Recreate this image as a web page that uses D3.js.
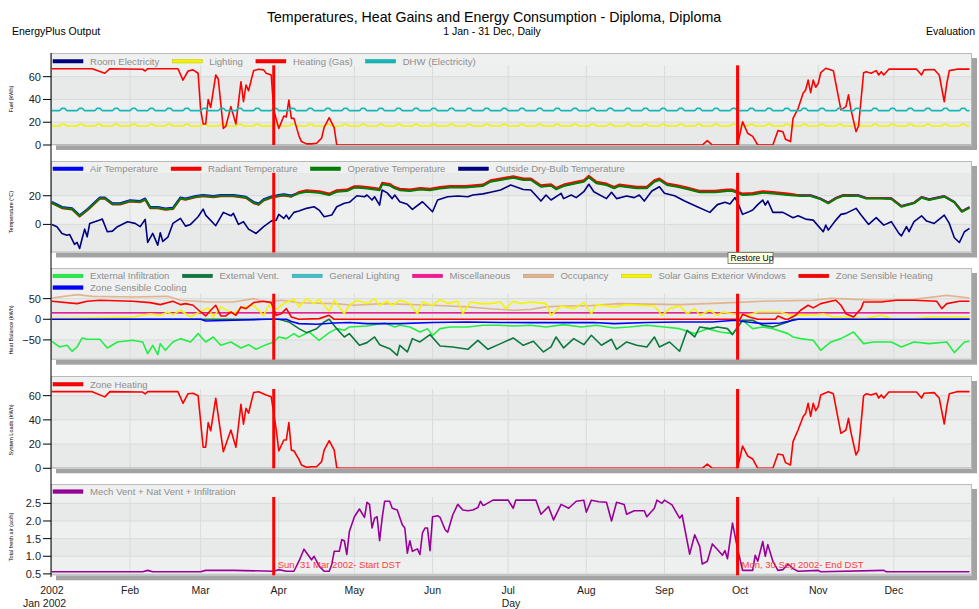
<!DOCTYPE html>
<html>
<head>
<meta charset="utf-8">
<script src="https://cdn.jsdelivr.net/npm/d3@7"></script>
<style>
body { margin: 0; background: #fff; }
text { font-family: "Liberation Sans", Arial, sans-serif; }
</style>
</head>
<body>
<svg id="chart" width="979" height="609"></svg>
<script>
// ---- data (day of year, value) ----
var monthLabels = ["2002", "Feb", "Mar", "Apr", "May", "Jun", "Jul", "Aug", "Sep", "Oct", "Nov", "Dec"];
var dstDays = [88, 272];
var dstLabels = ["Sun, 31 Mar 2002- Start DST", "Mon, 30 Sep 2002- End DST"];

// Fuel
var roomElectricity = [[0, 0], [364, 0]];
var lightingWeek = [18.2, 16.7, 16.7, 16.7, 16.7, 16.7, 18.2];   // Sun..Sat
var dhwWeek = [32.2, 30.2, 30.2, 30.2, 30.2, 30.2, 32.2];
var heatingGas = [[0,67],[16,67],[21,63],[23,67],[36,66.5],[37,65],[38,67],[50,67],[52,57],[54,65],[56,66],[58,63],[59,31],[60,18.5],[61,18.5],[62,40],[63,33],[65,61.5],[66,58],[68,14.6],[69,16.5],[71,33.7],[73,18.5],[75,55.6],[76,38],[77,52.7],[78,47.7],[80,65.3],[82,66.6],[84,66],[85,63],[87,61.5],[88,30.8],[90,14.6],[92,25.5],[93,24.6],[94,39.5],[95,23.4],[96,23.4],[98,8],[99,3],[101,1],[103,1],[105,1.5],[107,6],[108,15.5],[110,24],[112,15],[113,0],[258,0],[260,3.8],[262,0],[272,0],[274,20.5],[276,10.3],[278,7.6],[280,0],[286,0],[288,12.6],[290,11.7],[291,5],[293,3],[294,23.4],[296,32],[298,45.4],[299,48.3],[300,57],[301,46],[302,57],[303,50.7],[304,54],[305,63.5],[307,67.4],[310,65.3],[313,30.8],[315,33.7],[316,44],[317,30.8],[319,11.7],[320,16.7],[322,63.5],[323,64.4],[325,63],[327,65.3],[328,61.5],[329,64.4],[330,61.5],[332,66.6],[343,66.6],[345,61.5],[346,66],[350,66.3],[352,61.5],[354,38],[355,54],[356,65.3],[359,66.6],[364,66.6]];

// Temperatures
var tempDays = [0,4,8,11,14,19,21,24,27,31,35,37,39,42,45,48,51,53,57,60,64,67,72,75,77,80,82,84,87,90,92,95,98,101,106,110,113,117,120,122,125,128,130,131,134,136,138,142,146,150,154,158,164,171,174,178,183,187,190,194,198,200,203,208,211,213,216,220,223,225,232,236,239,241,244,248,252,257,263,268,270,274,278,282,286,292,297,301,305,308,311,314,320,323,329,333,337,342,345,348,354,358,361,364];
var airTemp = [15.7,12.2,11.3,6.4,10.6,18.8,18.8,14.8,14.8,16.9,16.4,18.1,12.2,12.2,11.1,11.6,18.8,18.1,19.9,20.6,19.9,20.6,20.6,19.9,19.3,15.7,14.6,17.6,19.5,20.6,21.1,20.2,
  22.1,23.2,22.5,20.9,23.2,23.7,26,26,25.5,24.8,24.3,28.4,27.6,25.5,24.3,23.7,24.8,24.3,25.5,26.2,26.2,27.2,30.2,31.4,33,31.4,31.4,26.7,27.4,24.9,27.2,29.1,30.2,33.3,29.1,27.9,25.6,27.2,25.6,25.6,30.2,31.4,27.9,26.7,25.1,22.8,22.8,23.7,23.7,20.9,21.3,22.5,22,20.9,
  20.3,20.3,18,15.2,18.5,20.5,20.3,18.5,18.5,18.2,12.8,15.2,19.1,17.5,19.8,15.8,9.3,12.1];
var radiantTemp = [14.8,11.3,10.4,5.5,9.7,17.9,17.9,13.9,13.9,16,15.5,17.2,11.3,11.3,10.2,10.7,17.9,17.2,19,19.7,19,19.7,19.7,19,18.4,14.8,13.7,16.7,18.6,19.7,20.2,19.3,
  22.7,23.8,23.1,21.5,23.8,24.3,26.6,26.6,26.1,25.4,24.9,29,28.2,26.1,24.9,24.3,25.4,24.9,26.1,26.8,26.8,27.8,30.8,32,33.6,32,32,27.3,28,25.5,27.8,29.7,30.8,33.9,29.7,28.5,26.2,27.8,26.2,26.2,30.8,32,28.5,27.3,25.7,23.4,23.4,24.3,24.3,21.5,21.9,23.1,22.6,21.5,
  20.1,20.1,17.8,15,18.3,20.3,20.1,18.3,18.3,18,12.6,15,18.9,17.3,19.6,15.6,9.1,11.9];
var operativeTemp = [15.1,11.6,10.7,5.8,10,18.2,18.2,14.2,14.2,16.3,15.8,17.5,11.6,11.6,10.5,11,18.2,17.5,19.3,20,19.3,20,20,19.3,18.7,15.1,14,17,18.9,20,20.5,19.6,
  21.7,22.8,22.1,20.5,22.8,23.3,25.6,25.6,25.1,24.4,23.9,28,27.2,25.1,23.9,23.3,24.4,23.9,25.1,25.8,25.8,26.8,29.8,31,32.6,31,31,26.3,27,24.5,26.8,28.7,29.8,32.9,28.7,27.5,25.2,26.8,25.2,25.2,29.8,31,27.5,26.3,24.7,22.4,22.4,23.3,23.3,20.5,20.9,22.1,21.6,20.5,
  19.8,19.8,17.5,14.7,18,20,19.8,18,18,17.7,12.3,14.7,18.6,17,19.3,15.3,8.8,11.6];
var outsideTemp = [[0,0],[2,-1.6],[4,-6.3],[6,-7.5],[7,-7],[9,-14],[10,-12.6],[11,-16.8],[12,-9.8],[13,-3.3],[14,-8.6],[15,0.7],[19,3],[20,3.7],[22,-5.1],[24,-4.7],[26,-1.6],[30,1.9],[33,0.7],[35,-1.6],[37,3.5],[38,-12.6],[40,-6.3],[42,-14.5],[43,-5.8],[44,-11.9],[46,-8.9],[48,0.7],[51,4.2],[53,-1.2],[55,0],[58,5.3],[60,10.7],[61,6.5],[65,-0.9],[68,8.4],[71,6],[72,7.7],[74,0],[76,1.9],[78,-3.3],[81,-6.3],[84,-1.6],[87,2.3],[89,3],[90,7],[92,4.2],[93,6.5],[94,3.7],[96,8.4],[98,9.3],[101,11.2],[104,12.3],[106,10],[108,5.3],[111,6.5],[113,12.3],[116,14.7],[118,15.4],[121,20],[124,19.3],[125,20.5],[127,17],[128,19.3],[130,13.5],[131,24],[133,22],[135,18],[136,20.5],[138,15.8],[141,14],[143,10.5],[147,15.8],[149,12.3],[151,8.8],[153,17],[157,19.3],[161,19.8],[165,19.3],[167,20.5],[171,21.3],[174,22.4],[178,24],[182,27.5],[187,24.4],[190,24],[194,16.3],[196,20.5],[198,17],[202,21.7],[203,18],[206,20.5],[208,18.7],[211,22.8],[213,28],[215,22.8],[220,18],[222,22.4],[224,18],[228,19.8],[231,18.7],[233,20.5],[235,16.3],[238,23.3],[241,26.3],[243,21.7],[247,20],[251,16.3],[256,12.3],[261,8.4],[264,13.8],[267,15.4],[269,14.2],[271,18.7],[272,15.4],[274,7],[276,8.4],[278,10],[280,13.8],[282,17],[283,13.5],[284,16.3],[286,8.4],[290,8.4],[294,4.7],[296,6],[299,3.7],[302,3],[306,-5.1],[307,-0.5],[308,-4],[311,3],[313,7],[315,7.7],[319,11.2],[321,6.5],[324,0],[327,4.7],[330,-0.5],[333,1.9],[336,-6.3],[337,-8],[339,-1.6],[340,-5.1],[342,1.9],[345,6],[347,2.3],[350,0.7],[354,6.5],[356,0.7],[358,-9.3],[360,-12.6],[362,-5.1],[364,-2.8]];

// Heat balance
var externalInfiltration = [[0,-53.4],[3,-67.1],[6,-63.1],[8,-77.6],[10,-67.1],[12,-45.3],[14,-48.5],[19,-48.5],[22,-69.5],[26,-55],[32,-51],[36,-55],[38,-83.3],[40,-63.1],[42,-85.7],[43,-59],[45,-75.2],[48,-55],[51,-46.9],[55,-55],[58,-34.8],[61,-55],[64,-42.9],[67,-63.1],[71,-55],[75,-69.5],[78,-61.5],[81,-72.8],[85,-61.5],[88,-55],[90,-42.9],[93,-46.9],[96,-34.8],[98,-42.9],[102,-30.8],[106,-51],[110,-32.4],[113,-22.7],[116,-26.7],[118,-18.6],[125,-16.2],[132,-8.9],[136,-18.6],[138,-14.6],[142,-18.6],[146,-30.8],[149,-22.7],[151,-38.8],[154,-22.7],[158,-18.6],[165,-18.6],[171,-14.6],[177,-14.6],[183,-16.2],[190,-14.6],[196,-18.6],[203,-12.9],[210,-18.6],[216,-14.6],[223,-21],[229,-18.6],[236,-14.6],[243,-18.6],[249,-22.7],[255,-34.8],[260,-22.7],[265,-30.8],[270,-34.8],[274,-2.4],[278,-22.7],[282,-18.6],[286,-22.7],[292,-34.8],[294,-42.9],[297,-46.9],[302,-51],[305,-75.2],[309,-55],[313,-46.9],[318,-30.8],[322,-59],[326,-55],[333,-55],[337,-67.1],[342,-55],[348,-59],[355,-55],[358,-80.9],[362,-55],[364,-53.4]];
var externalVent = [[0,0],[90,0],[94,-6.5],[98,-22.7],[101,-32.4],[105,-22.7],[108,-6.5],[110,0],[113,-22.7],[116,-42.9],[118,-34.8],[122,-63.1],[125,-56.6],[128,-42.9],[130,-61.5],[134,-71.2],[137,-87.4],[138,-63.1],[141,-79.2],[143,-46.9],[146,-55],[150,-37.2],[154,-64.7],[159,-67.1],[165,-72.8],[169,-51],[173,-72.8],[178,-59],[183,-45.3],[187,-63.1],[191,-53.4],[195,-79.2],[198,-67.1],[200,-42.9],[203,-69.5],[207,-46.9],[211,-61.5],[214,-38.8],[218,-63.1],[222,-48.5],[224,-72.8],[228,-55],[232,-63.1],[236,-67.1],[239,-42.9],[241,-67.1],[245,-55],[249,-77.6],[252,-26.7],[255,-42.9],[257,-18.6],[261,-22.7],[264,-18.6],[268,-22.7],[270,-37.2],[274,-2.4],[278,-2.4],[282,-14.6],[286,-18.6],[292,-6.5],[294,0],[364,0]];
var generalLighting = [[0,16],[364,16]];
var miscellaneous = [[0,16],[364,16]];
var occupancy = [[0,51.7],[10,59.7],[16,55.6],[32,54],[46,55.6],[51,46],[62,42],[72,42],[80,50],[85,42],[91,46],[98,40],[112,38],[120,34],[131,38],[151,34],[165,30],[175,25],[183,22],[190,24],[196,30],[203,32],[214,33],[225,38],[249,35.5],[260,38],[270,40.4],[282,43.6],[302,46],[309,50.7],[328,46],[342,48.5],[355,58],[364,51.7]];
var solarGains = [[0,1.6],[32,5.6],[39,13.6],[43,9.6],[46,17.7],[48,11.2],[51,21.8],[55,5.6],[59,19.3],[62,27.6],[64,5.6],[67,30],[72,13.6],[75,27.6],[80,34],[84,9.6],[86,34],[89,24.2],[92,38],[96,48.5],[98,30],[101,50],[104,38],[106,48.5],[110,19.3],[112,46],[116,13.6],[118,34],[121,46],[125,38],[128,50],[130,34],[133,43.6],[135,34],[138,46],[142,38],[145,13.6],[147,42],[151,34],[154,48.5],[157,38],[161,43.6],[163,13.6],[166,42],[170,38],[174,38],[178,42],[180,25.8],[183,43.6],[186,38],[190,42],[196,38],[198,9.6],[202,32.3],[207,25.8],[211,40.4],[214,13.6],[216,35.5],[223,30],[228,35.5],[233,34],[239,32.3],[242,9.6],[245,25.8],[249,32.3],[252,13.6],[255,25.8],[257,9.6],[261,21.8],[264,9.6],[266,17.7],[272,11.2],[276,9.6],[280,17.7],[284,17.7],[289,17.7],[293,9.6],[297,11.2],[302,9.6],[306,13.6],[310,5.6],[315,5.6],[322,1.6],[329,9.6],[333,1.6],[342,1.6],[348,5.6],[355,5.6],[364,5.6]];
var zoneSensibleHeating = [[0,43.6],[10,38],[14,43.6],[19,46],[32,43.6],[39,40.4],[43,35.5],[48,43.6],[51,35.5],[53,38],[56,34],[59,17.7],[61,8],[63,21.8],[65,34],[67,8],[69,8],[71,17.7],[73,9.6],[75,30],[77,25.8],[80,40.4],[84,43.6],[87,40.4],[89,9.6],[91,13.6],[93,25.8],[95,5.6],[98,0],[106,1.6],[110,9.6],[112,0],[273,0],[274,12],[277,5],[280,0],[287,0],[288,8],[291,0],[292,0],[295,9.6],[297,21.8],[300,34],[302,27.6],[305,38],[309,43.6],[311,46],[313,34],[315,13.6],[318,5.6],[321,25.8],[322,42],[329,42],[335,46],[342,46],[351,43.6],[353,25.8],[355,38],[360,43.6],[364,43.6]];
var zoneSensibleCooling = [[0,0],[59,0],[61,-4],[72,-2.4],[85,0],[93,0],[95,-5.6],[98,-10.5],[105,-12.1],[112,-8.9],[118,-8],[125,-10.5],[138,-10.5],[151,-8],[165,-6.5],[178,-8],[190,-8],[215,-8],[223,-10.5],[236,-8],[249,-6.5],[262,-6.5],[271,-2.4],[276,-6.5],[282,-10.5],[289,-8.9],[296,0],[364,0]];

// System loads
var zoneHeating = [[0,63.3],[16,63.3],[21,59],[23,63.3],[36,63],[37,61.5],[38,63.3],[50,63.3],[52,53.7],[54,61.6],[56,62],[58,60],[60,17.4],[61,17.4],[62,37.7],[63,31],[65,57.9],[68,13.7],[71,31.6],[73,17.4],[75,52.9],[76,36.4],[77,49.6],[78,45.5],[80,62.5],[82,63.3],[85,60.5],[87,59],[89,32],[90,14.3],[92,23.4],[93,23.4],[94,37.7],[95,15],[96,14.5],[98,7.4],[99,2.7],[101,0.8],[103,1.3],[105,1.3],[107,5.5],[108,15],[110,22.8],[112,15],[113,0.5],[114,0],[258,0],[260,3.5],[262,0],[272,0],[274,18.4],[276,10.2],[278,7.7],[280,0],[286,0],[288,11.8],[290,11],[291,4.7],[293,2.8],[294,22],[296,31.6],[298,42.6],[299,45.4],[300,53.7],[301,43],[302,53.7],[303,47.6],[304,50.9],[305,60.6],[308,63.3],[310,61.5],[313,28.9],[315,31.6],[316,41.3],[317,29.5],[319,11],[320,15],[322,59.8],[323,61.5],[325,60.6],[327,62],[328,58],[329,60.6],[330,58],[332,63],[343,63],[345,58],[346,62],[350,62.5],[352,58],[354,36.6],[355,50.9],[356,61.5],[359,63.3],[364,63.3]];

// Total fresh air
var freshAir = [[0,0.56],[36,0.56],[38,0.6],[40,0.56],[59,0.56],[61,0.6],[72,0.6],[88,0.575],[90,0.62],[93,0.575],[96,0.575],[98,0.86],[100,1.2],[102,1.0],[103,0.9],[104,1.0],[106,0.72],[108,0.575],[110,0.575],[111,0.76],[112,1.14],[114,1.14],[115,1.47],[116,1.44],[117,1.05],[118,1.7],[120,2.12],[122,2.34],[124,2.1],[125,2.53],[126,2.47],[127,1.8],[128,2.08],[129,2.12],[130,1.44],[131,2.08],[132,2.56],[134,2.56],[135,2.36],[137,2.31],[139,1.89],[140,1.8],[141,1.09],[142,1.44],[143,1.14],[145,1.21],[146,1.05],[147,1.66],[148,1.8],[149,1.8],[150,1.16],[151,2.12],[153,2.15],[154,2.1],[156,1.75],[157,1.68],[159,2.17],[161,2.47],[163,2.31],[165,2.29],[167,2.31],[169,2.38],[170,2.56],[171,2.44],[172,2.47],[175,2.59],[181,2.59],[183,2.36],[184,2.59],[192,2.59],[194,2.19],[197,2.41],[199,2.03],[202,2.47],[205,2.36],[208,2.56],[211,2.59],[212,2.25],[214,2.59],[217,2.545],[220,2.53],[222,2.0],[224,2.53],[227,2.47],[228,2.19],[231,2.29],[235,2.29],[236,2.12],[239,2.36],[240,2.59],[242,2.5],[243,2.59],[246,2.455],[249,2.08],[250,2.17],[253,1.06],[255,1.61],[257,1.28],[258,0.78],[260,0.86],[262,1.35],[264,1.19],[266,1.03],[267,1.16],[268,0.93],[270,1.94],[272,1.21],[274,0.6],[278,0.6],[279,1.03],[280,0.86],[282,1.42],[283,1.0],[284,1.33],[286,0.86],[288,0.6],[290,0.62],[292,0.78],[294,0.65],[296,0.575],[304,0.6],[305,0.56],[330,0.6],[331,0.56],[364,0.56]];

// ---- chart ----
var svg = d3.select("#chart");
var jan1 = new Date(2002, 0, 1);
function dayDate(d) { return d3.timeDay.offset(jan1, d); }
var allDays = d3.range(365);
var lighting = allDays.map(function(d) { return [d, lightingWeek[dayDate(d).getDay()]]; });
var dhw = allDays.map(function(d) { return [d, dhwWeek[dayDate(d).getDay()]]; });
function zipDays(vals) { return tempDays.map(function(d, i) { return [d, vals[i]]; }); }

var left = 51.9, right = 972, frameLeft = 51;
var x = d3.scaleTime().domain([jan1, new Date(2003, 0, 1)]).range([left, right]);

var panels = [
	{ top: 53, plotTop: 65.3, bottom: 145, domain: [0, 70], ticks: [0, 20, 40, 60], fmt: "d",
		title: "Fuel (kWh)", titleY: 99, legendY: 61,
		series: [
			{ name: "Room Electricity", color: "#000080", data: roomElectricity, under: true },
			{ name: "Lighting", color: "#f2f200", data: lighting, smooth: true },
			{ name: "Heating (Gas)", color: "#ff0000", data: heatingGas },
			{ name: "DHW (Electricity)", color: "#14b8b8", data: dhw, smooth: true }
		] },
	{ top: 161, plotTop: 172.8, bottom: 252.5, domain: [-19.6, 36], ticks: [0, 20], fmt: "d",
		title: "Temperature (\u00b0C)", titleY: 212, legendY: 168.5,
		series: [
			{ name: "Air Temperature", color: "#0000ff", data: zipDays(airTemp), width: 2 },
			{ name: "Radiant Temperature", color: "#ff0000", data: zipDays(radiantTemp), width: 2 },
			{ name: "Operative Temperature", color: "#008000", data: zipDays(operativeTemp), width: 2 },
			{ name: "Outside Dry-Bulb Temperature", color: "#000080", data: outsideTemp }
		] },
	{ top: 268, plotTop: 293.7, bottom: 359.7, domain: [-98, 62], ticks: [-50, 0, 50], fmt: "d",
		title: "Heat Balance (kWh)", titleY: 330, legendY: 275.7,
		series: [
			{ name: "External Infiltration", color: "#22ee44", data: externalInfiltration },
			{ name: "External Vent.", color: "#0c7a3c", data: externalVent },
			{ name: "General Lighting", color: "#40c0c8", data: generalLighting },
			{ name: "Miscellaneous", color: "#ff1493", data: miscellaneous },
			{ name: "Occupancy", color: "#e2b48e", data: occupancy },
			{ name: "Solar Gains Exterior Windows", color: "#f5f500", data: solarGains },
			{ name: "Zone Sensible Heating", color: "#ff0000", data: zoneSensibleHeating },
			{ name: "Zone Sensible Cooling", color: "#0000ff", data: zoneSensibleCooling }
		] },
	{ top: 376, plotTop: 389, bottom: 468.3, domain: [0, 65.5], ticks: [0, 20, 40, 60], fmt: "d",
		title: "System Loads (kWh)", titleY: 430, legendY: 384,
		series: [
			{ name: "Zone Heating", color: "#ff0000", data: zoneHeating }
		] },
	{ top: 484, plotTop: 497, bottom: 575.3, domain: [0.46, 2.68], ticks: [0.5, 1, 1.5, 2, 2.5], fmt: ".1f",
		title: "Total fresh air (ac/h)", titleY: 537, legendY: 491.3,
		series: [
			{ name: "Mech Vent + Nat Vent + Infiltration", color: "#990099", data: freshAir }
		] }
];

// titles
svg.append("text").attr("x", 494).attr("y", 22).attr("text-anchor", "middle")
	.attr("font-size", "14.2px").attr("fill", "#000")
	.text("Temperatures, Heat Gains and Energy Consumption - Diploma, Diploma");
svg.append("text").attr("x", 492).attr("y", 35).attr("text-anchor", "middle")
	.attr("font-size", "10.5px").text("1 Jan - 31 Dec, Daily");
svg.append("text").attr("x", 12).attr("y", 35).attr("font-size", "10.5px").text("EnergyPlus Output");
svg.append("text").attr("x", 975).attr("y", 35).attr("text-anchor", "end").attr("font-size", "10.5px").text("Evaluation");

var defs = svg.append("defs");
var monthTicks = d3.timeMonths(jan1, new Date(2003, 0, 1));

panels.forEach(function(p, pi) {
	var y = d3.scaleLinear().domain(p.domain).range([p.bottom, p.plotTop]);
	var g = svg.append("g");
	var w = right - frameLeft;

	// shadow and frame
	g.append("rect").attr("x", frameLeft + 5).attr("y", p.top + 5)
		.attr("width", w).attr("height", p.bottom - p.top).attr("fill", "#a3a3a3");
	g.append("rect").attr("x", frameLeft).attr("y", p.top)
		.attr("width", w).attr("height", p.bottom - p.top).attr("fill", "#eff0f0");

	// alternating bands between the ticks
	var edges = [p.domain[0]].concat(p.ticks.filter(function(t) { return t > p.domain[0] && t < p.domain[1]; }), [p.domain[1]]);
	for (var i = 0; i < edges.length - 1; i++) {
		g.append("rect").attr("x", frameLeft).attr("width", w)
			.attr("y", y(edges[i + 1])).attr("height", y(edges[i]) - y(edges[i + 1]))
			.attr("fill", i % 2 === 0 ? "#e8e9e9" : "#eef0f0");
	}

	// grid
	g.selectAll(".hgrid").data(p.ticks).enter().append("line")
		.attr("x1", frameLeft).attr("x2", right)
		.attr("y1", function(d) { return y(d); }).attr("y2", function(d) { return y(d); })
		.attr("stroke", "#d9dada").attr("stroke-width", 1);
	g.selectAll(".vgrid").data(monthTicks.slice(1)).enter().append("line")
		.attr("x1", function(d) { return x(d); }).attr("x2", function(d) { return x(d); })
		.attr("y1", p.plotTop).attr("y2", p.bottom)
		.attr("stroke", "#dadbdb").attr("stroke-width", 1);

	defs.append("clipPath").attr("id", "clip" + pi).append("rect")
		.attr("x", frameLeft).attr("y", p.plotTop).attr("width", w).attr("height", p.bottom - p.plotTop);

	function drawSeries(s, layer) {
		var line = d3.line()
			.x(function(d) { return x(dayDate(d[0])); })
			.y(function(d) { return y(d[1]); })
			.curve(s.smooth ? d3.curveMonotoneX : d3.curveLinear);
		layer.append("path").datum(s.data).attr("d", line)
			.attr("fill", "none").attr("stroke", s.color)
			.attr("stroke-width", s.width || 1.6).attr("stroke-linejoin", "round");
	}

	// series lying on the frame edge go under the border
	var under = g.append("g").attr("clip-path", "url(#clip" + pi + ")");
	p.series.filter(function(s) { return s.under; }).forEach(function(s) { drawSeries(s, under); });

	// frame border
	g.append("rect").attr("x", frameLeft + 0.5).attr("y", p.top + 0.5)
		.attr("width", w - 1).attr("height", p.bottom - p.top - 1)
		.attr("fill", "none").attr("stroke", "#b9b9b9");

	var plot = g.append("g").attr("clip-path", "url(#clip" + pi + ")");
	p.series.filter(function(s) { return !s.under; }).forEach(function(s) { drawSeries(s, plot); });

	// DST markers
	dstDays.forEach(function(d) {
		var xx = x(dayDate(d));
		g.append("line").attr("x1", xx).attr("x2", xx).attr("y1", p.plotTop).attr("y2", p.bottom)
			.attr("stroke", "#ff0000").attr("stroke-width", 3);
	});

	// legend
	var lx = 53, ly = p.legendY;
	p.series.forEach(function(s) {
		var item = g.append("g");
		var t = item.append("text").attr("x", lx + 37).attr("y", ly + 3.5)
			.attr("font-size", "9.6px").attr("fill", "#8e8e8e").text(s.name);
		var tw = t.node().getComputedTextLength();
		if (lx + 37 + tw > right - 5 && lx > 53) {
			lx = 53; ly += 11.6;
			t.attr("x", lx + 37).attr("y", ly + 3.5);
		}
		item.append("rect").attr("x", lx).attr("y", ly - 1.5).attr("width", 30).attr("height", 3.5)
			.attr("fill", s.color).attr("stroke", d3.color(s.color).darker(0.6)).attr("stroke-width", 0.5);
		lx += 37 + tw + 13;
	});

	// y ticks
	g.selectAll(".ytick").data(p.ticks).enter().append("line")
		.attr("x1", 43).attr("x2", frameLeft)
		.attr("y1", function(d) { return y(d); }).attr("y2", function(d) { return y(d); })
		.attr("stroke", "#000");
	g.selectAll(".ylab").data(p.ticks).enter().append("text")
		.attr("x", 41).attr("y", function(d) { return y(d) + 4; })
		.attr("text-anchor", "end").attr("font-size", "11px").attr("fill", "#222")
		.text(function(d) { return d3.format(p.fmt)(d); });

	// y title
	svg.append("text").attr("transform", "translate(13," + p.titleY + ") rotate(-90)")
		.attr("text-anchor", "middle").attr("font-size", "5.5px").attr("fill", "#000")
		.text(p.title);
});

// left axis line
svg.append("line").attr("x1", frameLeft).attr("x2", frameLeft).attr("y1", 53).attr("y2", 577)
	.attr("stroke", "#000").attr("stroke-width", 1);

// x axis labels
svg.selectAll(".xlab").data(monthTicks).enter().append("text")
	.attr("x", function(d) { return x(d); }).attr("y", 594)
	.attr("text-anchor", "middle").attr("font-size", "10.5px").attr("fill", "#222")
	.text(function(d, i) { return monthLabels[i]; });
svg.append("text").attr("x", 23).attr("y", 607).attr("font-size", "10.5px").attr("fill", "#222").text("Jan 2002");
svg.append("text").attr("x", 511).attr("y", 607).attr("text-anchor", "middle").attr("font-size", "10.5px").attr("fill", "#222").text("Day");

// DST labels
dstDays.forEach(function(d, i) {
	svg.append("text").attr("x", x(dayDate(d)) + 4).attr("y", 568)
		.attr("font-size", "9.5px").attr("fill", "#ff3b3b").text(dstLabels[i]);
});

// tooltip left on the picture
var tip = svg.append("g").attr("transform", "translate(728,252.5)");
tip.append("rect").attr("width", 45).attr("height", 11).attr("fill", "#ffffe1").attr("stroke", "#666").attr("stroke-width", 0.8);
tip.append("text").attr("x", 2.5).attr("y", 8.5).attr("font-size", "8.5px").attr("fill", "#000").text("Restore Up");
</script>
</body>
</html>
